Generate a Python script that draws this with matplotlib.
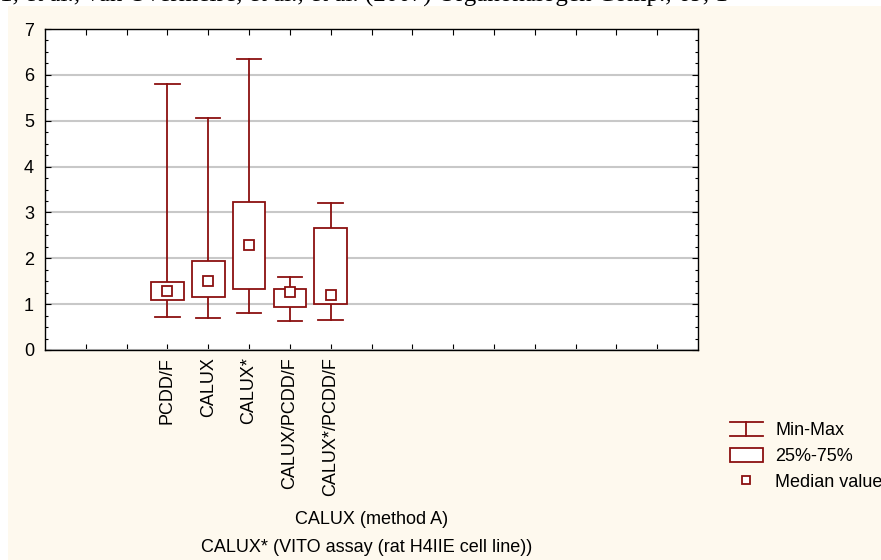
import numpy as np
import matplotlib
matplotlib.use("Agg")
import matplotlib.pyplot as plt
from matplotlib.lines import Line2D
from matplotlib.patches import Rectangle, Patch
from matplotlib.legend_handler import HandlerBase

plt.rcParams['font.family'] = ['Liberation Sans', 'DejaVu Sans']

# data
labels = ['PCDD/F', 'CALUX', 'CALUX*', 'CALUX/PCDD/F', 'CALUX*/PCDD/F']
positions = [3, 4, 5, 6, 7]
mins = [0.73, 0.70, 0.80, 0.63, 0.65]
q1 = [1.09, 1.16, 1.32, 0.94, 1.00]
medians = [1.29, 1.51, 2.28, 1.27, 1.19]
q3 = [1.48, 1.93, 3.22, 1.33, 2.67]
maxs = [5.80, 5.07, 6.35, 1.60, 3.20]

red = '#8B1010'
cream = '#FEF9EE'
box_w = 0.8
cap_w = 0.6
fs = 13


class MinMaxHandler(HandlerBase):
    def create_artists(self, legend, orig_handle, xdescent, ydescent,
                       width, height, fontsize, trans):
        x0, y0 = -xdescent, -ydescent
        x1, y1 = x0 + width, y0 + height
        cx = (x0 + x1) / 2
        segs = [([x0, x1], [y1, y1]), ([x0, x1], [y0, y0]), ([cx, cx], [y0, y1])]
        out = []
        for xs, ys in segs:
            ln = Line2D(xs, ys, color=red, lw=1.3, transform=trans)
            out.append(ln)
        return out


fig = plt.figure(figsize=(8.81, 5.60), dpi=100, facecolor='white')
fig.patches.append(Rectangle((8 / 881, 0), 1, 1 - 6 / 560, transform=fig.transFigure,
                             facecolor=cream, edgecolor='none', zorder=-10))
# page text above the chart, mostly cut off in the source image
fig.text(0.0, 1 - 2 / 560, "1, et al., van Overmeire, et al., et al. (2007) Organohalogen Comp., 69, 1",
         family='Liberation Serif', fontsize=18, va='baseline', ha='left')

ax = fig.add_axes([45 / 881, 210 / 560, 653 / 881, 321 / 560])
ax.set_facecolor('white')
ax.set_xlim(0, 16)
ax.set_ylim(0, 7)

# whiskers and boxes
for p, lo, hi, a, b in zip(positions, mins, maxs, q1, q3):
    ax.plot([p, p], [hi, b], color=red, lw=1.3, zorder=3)
    ax.plot([p, p], [lo, a], color=red, lw=1.3, zorder=3)
    ax.plot([p - cap_w / 2, p + cap_w / 2], [hi, hi], color=red, lw=1.3, zorder=3)
    ax.plot([p - cap_w / 2, p + cap_w / 2], [lo, lo], color=red, lw=1.3, zorder=3)
    ax.add_patch(Rectangle((p - box_w / 2, a), box_w, b - a, facecolor='white',
                           edgecolor=red, lw=1.3, zorder=3))
ax.plot(positions, medians, linestyle='none', marker='s', ms=6.5, mfc='white',
        mec=red, mew=1.3, zorder=4)

ax.yaxis.grid(True, color='#C8C8C8', lw=1.5)
ax.set_axisbelow(True)
ax.set_yticks(range(0, 8))
ax.set_yticks(np.arange(0, 7.01, 0.25), minor=True)
ax.set_xticks(range(1, 16))
ax.set_xticklabels([''] * 15)
ax.tick_params(axis='both', which='both', direction='in', top=True, right=True,
               labelsize=fs, width=0.8)
ax.tick_params(axis='both', which='major', length=4)
ax.tick_params(axis='both', which='minor', length=2.5)
ax.tick_params(axis='y', pad=8)
for s in ax.spines.values():
    s.set_linewidth(1.0)

for p, lab in zip(positions, labels):
    ax.text(p, -0.15, lab, rotation=90, ha='center', va='top', fontsize=fs)

fig.text((45 + 698) / 2 / 881, 1 - 520 / 560, 'CALUX (method A)', ha='center', va='center', fontsize=fs)
fig.text(367 / 881, 1 - 547 / 560, 'CALUX* (VITO assay (rat H4IIE cell line))', ha='center', va='center', fontsize=fs)

handles = [Line2D([], []), Patch(facecolor='white', edgecolor=red, lw=1.3),
           Line2D([], [], linestyle='none', marker='s', ms=6, mfc='white', mec=red, mew=1.3)]
fig.legend(handles, ['Min-Max', '25%-75%', 'Median value'],
           handler_map={handles[0]: MinMaxHandler()},
           loc='upper left', bbox_to_anchor=(730 / 881, 1 - 422 / 560),
           frameon=False, fontsize=fs, borderpad=0, borderaxespad=0,
           handlelength=1.8, handleheight=0.85, handletextpad=0.7, labelspacing=0.45)

fig.savefig('out.png', dpi=100, facecolor=fig.get_facecolor())
